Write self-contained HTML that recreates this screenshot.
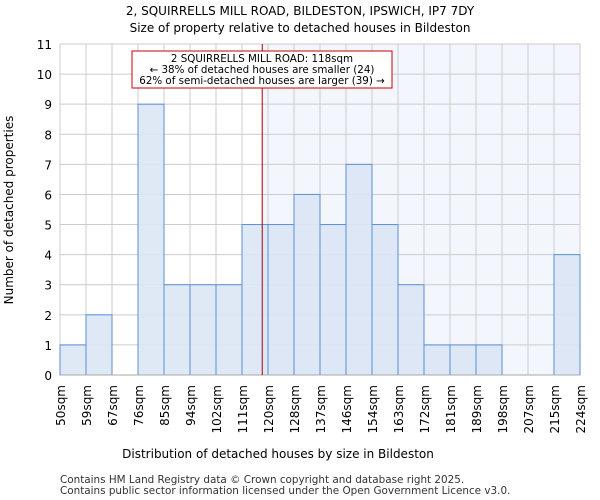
<!DOCTYPE html>
<html><head><meta charset="utf-8"><style>body{margin:0;background:#fff}svg{display:block;font-family:"DejaVu Sans","Liberation Sans",sans-serif}</style></head>
<body>
<svg id="c" width="600" height="500">
<text x="300" y="15" text-anchor="middle" font-size="12">2, SQUIRRELLS MILL ROAD, BILDESTON, IPSWICH, IP7 7DY</text>
<text x="300" y="32" text-anchor="middle" font-size="12">Size of property relative to detached houses in Bildeston</text>
<g id="plot"></g>
<text x="278" y="458" text-anchor="middle" font-size="12">Distribution of detached houses by size in Bildeston</text>
<text transform="translate(13,210) rotate(-90)" text-anchor="middle" font-size="12">Number of detached properties</text>
<text x="60" y="483" font-size="10.4" fill="#333">Contains HM Land Registry data © Crown copyright and database right 2025.</text>
<text x="60" y="494" font-size="10.4" fill="#333">Contains public sector information licensed under the Open Government Licence v3.0.</text>
</svg>
<script>
const categories=["50sqm","59sqm","67sqm","76sqm","85sqm","94sqm","102sqm","111sqm","120sqm","128sqm","137sqm","146sqm","154sqm","163sqm","172sqm","181sqm","189sqm","198sqm","207sqm","215sqm","224sqm"];
const counts=[1,2,0,9,3,3,3,5,5,6,5,7,5,3,1,1,1,0,0,4];
const yTicks=[0,1,2,3,4,5,6,7,8,9,10,11];
const markerValue=118;
const binStarts=[50,59,67,76,85,94,102,111,120,128,137,146,154,163,172,181,189,198,207,215,224];
const L=60,R=580,T=44,B=375,ymax=11;
const NS="http://www.w3.org/2000/svg";
const g=document.getElementById('plot');
const bw=(R-L)/counts.length;
const xs=i=>L+i*bw;
const ys=v=>B-(v/ymax)*(B-T);
function xv(v){for(let i=0;i<binStarts.length-1;i++){if(v>=binStarts[i]&&v<=binStarts[i+1])return xs(i)+(v-binStarts[i])/(binStarts[i+1]-binStarts[i])*bw;}return R;}
function mk(t,a){const e=document.createElementNS(NS,t);for(const k in a)e.setAttribute(k,a[k]);g.appendChild(e);return e;}
const mx=xv(markerValue);
let e=mk('rect',{x:mx,y:T,width:R-mx,height:B-T,fill:'#f3f6fd'});


yTicks.forEach(v=>{let l=mk('line',{x1:L,x2:R,y1:ys(v),y2:ys(v),stroke:'#ccc','stroke-width':1});


let t=mk('text',{x:L-8,y:ys(v)+5,'text-anchor':'end','font-size':12});t.textContent=v;

});
categories.forEach((c,i)=>{let l=mk('line',{x1:xs(i),x2:xs(i),y1:T,y2:B,stroke:'#ccc','stroke-width':1});


let t=mk('text',{transform:`translate(${xs(i)+5},${B+10}) rotate(-90)`,'text-anchor':'end','font-size':12});t.textContent=c;

});
counts.forEach((v,i)=>{if(v<=0)return;let r=mk('rect',{x:xs(i),y:ys(v),width:bw,height:B-ys(v),fill:'#dbe5f4','fill-opacity':0.9,stroke:'#5b8fd6','stroke-width':1});

});
let ax=mk('line',{x1:L,x2:R,y1:B,y2:B,stroke:'#aaa'});


let ml=mk('line',{x1:mx,x2:mx,y1:T,y2:B,stroke:'#b00000','stroke-width':1});


let box=mk('rect',{x:132,y:51,width:260,height:37,fill:'#fff',stroke:'#c00','stroke-width':1});


["2 SQUIRRELLS MILL ROAD: 118sqm","← 38% of detached houses are smaller (24)","62% of semi-detached houses are larger (39) →"].forEach((s,i)=>{let t=mk('text',{x:262,y:62+i*11,'text-anchor':'middle','font-size':10.3});t.textContent=s;

});
</script>
</body></html>
